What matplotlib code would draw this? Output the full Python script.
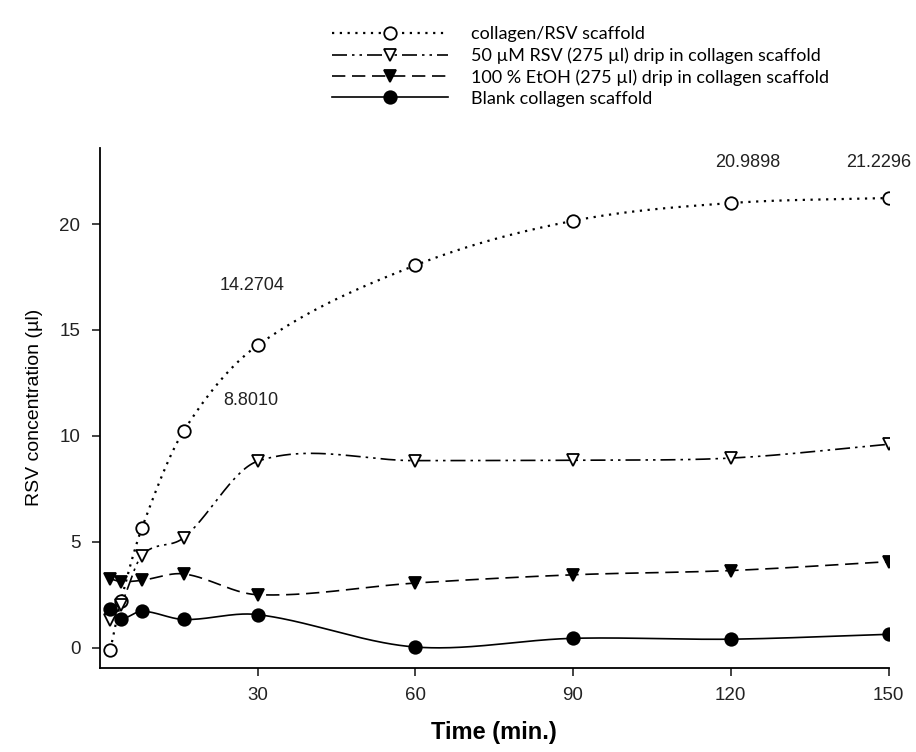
import numpy as np
import matplotlib
matplotlib.use("Agg")
import matplotlib.pyplot as plt
from matplotlib.lines import Line2D

plt.rcParams['font.family'] = ['Liberation Sans', 'DejaVu Sans']

# data
time_min = [2, 4, 8, 16, 30, 60, 90, 120, 150]
collagen_rsv = [-0.1, 2.2, 5.65, 10.25, 14.2704, 18.05, 20.15, 20.9898, 21.2296]
rsv_drip = [1.3, 2.0, 4.35, 5.2, 8.8010, 8.83, 8.85, 8.95, 9.6]
etoh_drip = [3.25, 3.12, 3.18, 3.48, 2.5, 3.05, 3.44, 3.64, 4.06]
blank = [1.83, 1.37, 1.72, 1.33, 1.56, 0.03, 0.44, 0.40, 0.63]

labels = ['collagen/RSV scaffold',
          '50 \u00b5M RSV (275 \u00b5l) drip in collagen scaffold',
          '100 % EtOH (275 \u00b5l) drip in collagen scaffold',
          'Blank collagen scaffold']
x_ticks = [30, 60, 90, 120, 150]
y_ticks = [0, 5, 10, 15, 20]


def smooth_line(x, y, per_seg=60):
    # Catmull-Rom style hermite curve through the points, just for drawing
    x = np.asarray(x, float)
    y = np.asarray(y, float)
    m = np.zeros(len(x))
    m[0] = (y[1] - y[0]) / (x[1] - x[0])
    m[-1] = (y[-1] - y[-2]) / (x[-1] - x[-2])
    m[1:-1] = (y[2:] - y[:-2]) / (x[2:] - x[:-2])
    xs, ys = [], []
    for i in range(len(x) - 1):
        h = x[i + 1] - x[i]
        s = np.linspace(0, 1, per_seg)
        h00 = 2 * s**3 - 3 * s**2 + 1
        h10 = s**3 - 2 * s**2 + s
        h01 = -2 * s**3 + 3 * s**2
        h11 = s**3 - s**2
        xs.append(x[i] + s * h)
        ys.append(h00 * y[i] + h10 * h * m[i] + h01 * y[i + 1] + h11 * h * m[i + 1])
    return np.concatenate(xs), np.concatenate(ys)


fig = plt.figure(figsize=(9.16, 7.52), dpi=100)
ax = fig.add_axes([0.109, 0.112, 0.861, 0.6915])

styles = [
    dict(ls=(0, (1, 2.5)), lw=1.6, marker='o', mfc='white'),
    dict(ls=(0, (9, 3, 1.5, 3, 1.5, 3)), lw=1.2, marker='v', mfc='white'),
    dict(ls=(0, (8, 4)), lw=1.2, marker='v', mfc='black'),
    dict(ls='-', lw=1.2, marker='o', mfc='black'),
]
series = [collagen_rsv, rsv_drip, etoh_drip, blank]

handles = []
for vals, st, lab in zip(series, styles, labels):
    xs, ys = smooth_line(time_min, vals)
    ax.plot(xs, ys, color='black', ls=st['ls'], lw=st['lw'], zorder=2)
    ax.plot(time_min, vals, ls='none', marker=st['marker'], ms=9,
            mfc=st['mfc'], mec='black', mew=1.3, zorder=3)
    handles.append(Line2D([], [], color='black', ls=st['ls'], lw=st['lw'],
                          marker=st['marker'], ms=9, mfc=st['mfc'],
                          mec='black', mew=1.3, label=lab))

# value annotations
ax.text(29, 17.1, f"{collagen_rsv[4]:.4f}", ha='center', va='center', fontsize=13, color='#222222')
ax.text(28.7, 11.66, f"{rsv_drip[4]:.4f}", ha='center', va='center', fontsize=13, color='#222222')
ax.text(123.3, 22.9, f"{collagen_rsv[7]:.4f}", ha='center', va='center', fontsize=13, color='#222222')
ax.text(148.2, 22.9, f"{collagen_rsv[8]:.4f}", ha='center', va='center', fontsize=13, color='#222222')

ax.set_xlim(0, 150)
ax.set_ylim(-0.95, 23.6)
ax.set_xticks(x_ticks)
ax.set_yticks(y_ticks)
ax.tick_params(direction='out', length=6, width=1.2, labelsize=13.5, pad=8, colors='#222222')
for s in ['top', 'right']:
    ax.spines[s].set_visible(False)
for s in ['left', 'bottom']:
    ax.spines[s].set_linewidth(1.3)

ax.set_xlabel('Time (min.)', fontsize=17, fontweight='bold', labelpad=12)
ax.set_ylabel('RSV concentration (\u00b5l)', fontsize=14, labelpad=12)

fig.legend(handles=handles, loc='upper left', bbox_to_anchor=(0.3526, 0.977),
           frameon=False, handlelength=6.4, handletextpad=1.3, labelspacing=0.28,
           prop={'family': ['Lato', 'DejaVu Sans'], 'size': 13}, borderpad=0)

fig.savefig('out.png', dpi=100)
